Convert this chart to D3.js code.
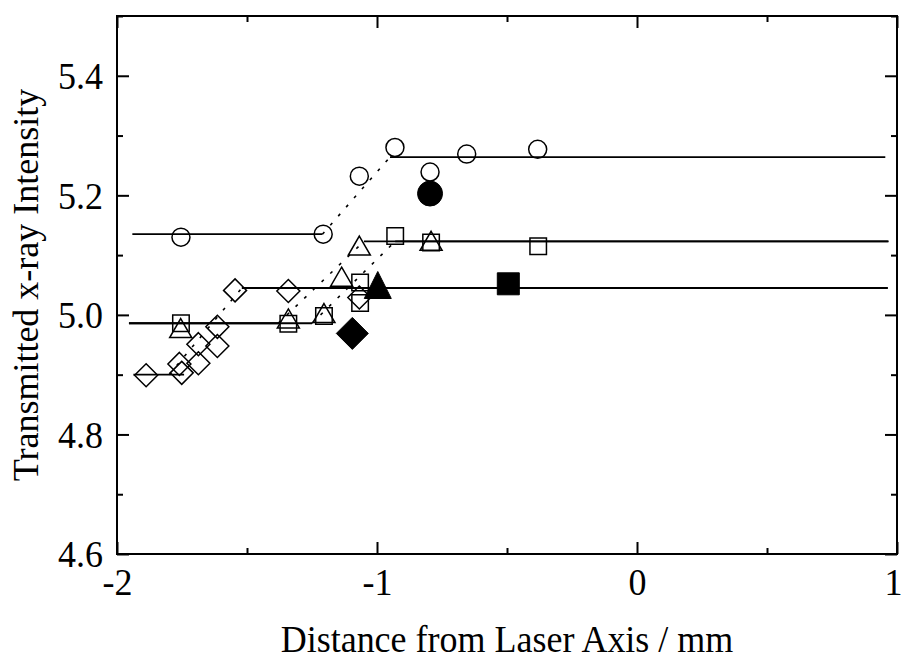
<!DOCTYPE html>
<html>
<head>
<meta charset="utf-8">
<script src="https://cdn.jsdelivr.net/npm/d3@7"></script>
<style>
  html, body { margin: 0; padding: 0; background: #fff; }
  svg { display: block; }
  text { font-family: "Liberation Serif", "Times New Roman", serif; fill: #000; }
</style>
</head>
<body>
<svg id="chart" width="903" height="660"></svg>
<script>
// ---------------- data ----------------
const xTickValues = [-2, -1, 0, 1];
const xTickLabels = ["-2", "-1", "0", "1"];
const xMinorTicks = [-1.5, -0.5, 0.5];
const yTickValues = [4.6, 4.8, 5.0, 5.2, 5.4];
const yTickLabels = ["4.6", "4.8", "5.0", "5.2", "5.4"];
const yMinorTicks = [4.7, 4.9, 5.1, 5.3, 5.5];

const xTitle = "Distance from Laser Axis / mm";
const yTitle = "Transmitted x-ray Intensity";

// open symbols
const circleX = [-1.754, -1.207, -1.068, -0.931, -0.796, -0.655, -0.382];
const circleY = [5.130, 5.135, 5.232, 5.280, 5.239, 5.269, 5.277];

const squareX = [-1.754, -1.341, -1.204, -1.065, -1.065, -0.930, -0.792, -0.380];
const squareY = [4.986, 4.985, 4.998, 5.054, 5.020, 5.132, 5.121, 5.115];

const triangleX = [-1.755, -1.341, -1.204, -1.136, -1.068, -0.792];
const triangleY = [4.978, 4.994, 5.003, 5.064, 5.116, 5.124];

const diamondX = [-1.888, -1.760, -1.751, -1.687, -1.687, -1.614, -1.614, -1.546, -1.341, -1.068];
const diamondY = [4.899, 4.918, 4.903, 4.919, 4.951, 4.948, 4.980, 5.041, 5.040, 5.029];

// filled symbols
const filledCircle = [-0.796, 5.203];
const filledSquare = [-0.495, 5.052];
const filledTriangle = [-0.997, 5.050];
const filledDiamond = [-1.095, 4.969];

// step fits: solid low level, dotted ramp, solid high level
const circleLow = [[-1.941, 5.135], [-1.21, 5.135]];
const circleRamp = [[-1.21, 5.135], [-0.95, 5.264]];
const circleHigh = [[-0.95, 5.264], [0.955, 5.264]];

const diamondLow = [[-1.937, 4.900], [-1.742, 4.900]];
const diamondRamp = [[-1.80, 4.900], [-1.52, 5.045]];
const diamondHigh = [[-1.52, 5.045], [0.965, 5.045]];

const triangleLow = [[-1.954, 4.986], [-1.38, 4.986]];
const triangleRamp = [[-1.38, 4.986], [-1.05, 5.123]];
const triangleHigh = [[-1.05, 5.123], [0.965, 5.123]];

const squareLow = [[-1.954, 4.986], [-1.25, 4.986]];
const squareRamp = [[-1.25, 4.986], [-0.93, 5.123]];
const squareHigh = [[-0.93, 5.123], [0.968, 5.123]];

// ---------------- layout ----------------
const svg = d3.select("#chart");
const pLeft = 117, pRight = 897, pTop = 16, pBottom = 554;
const x = d3.scaleLinear().domain([-2, 1]).range([pLeft, pRight]);
const y = d3.scaleLinear().domain([4.6, 5.5]).range([pBottom, pTop]);

const fontSize = 38;      // glyph height
const squeeze = 0.947;    // horizontal compression (narrow Times look)
const majorLen = 12, minorLen = 6;

// frame
svg.append("rect")
  .attr("x", pLeft).attr("y", pTop)
  .attr("width", pRight - pLeft).attr("height", pBottom - pTop)
  .attr("fill", "none").attr("stroke", "#000").attr("stroke-width", 2);

function styleAxis(g) {
  g.select(".domain").remove();
  g.selectAll(".tick line").attr("stroke", "#000").attr("stroke-width", 2);
  g.selectAll(".tick text").remove();
}

// bottom axis
const gx = svg.append("g").attr("transform", `translate(0,${pBottom})`)
  .call(d3.axisBottom(x).tickValues(xTickValues).tickSize(-majorLen).tickFormat(""))
  .call(styleAxis);
gx.selectAll(".tick").append("text")
  .attr("transform", (d, i) => `translate(${i === xTickValues.length - 1 ? -4 : 0},14) scale(${squeeze},1)`)
  .attr("dy", "0.71em")
  .attr("text-anchor", "middle")
  .style("font-size", fontSize + "px")
  .text((d, i) => xTickLabels[i]);
svg.append("g").attr("transform", `translate(0,${pBottom})`)
  .call(d3.axisBottom(x).tickValues(xMinorTicks).tickSize(-minorLen).tickFormat(""))
  .call(styleAxis);
// top axis
svg.append("g").attr("transform", `translate(0,${pTop})`)
  .call(d3.axisTop(x).tickValues(xTickValues).tickSize(-majorLen).tickFormat(""))
  .call(styleAxis);
svg.append("g").attr("transform", `translate(0,${pTop})`)
  .call(d3.axisTop(x).tickValues(xMinorTicks).tickSize(-minorLen).tickFormat(""))
  .call(styleAxis);
// left axis
const gy = svg.append("g").attr("transform", `translate(${pLeft},0)`)
  .call(d3.axisLeft(y).tickValues(yTickValues).tickSize(-majorLen).tickFormat(""))
  .call(styleAxis);
gy.selectAll(".tick").append("text")
  .attr("transform", `translate(-14,0) scale(${squeeze},1)`)
  .attr("dy", "0.34em")
  .attr("text-anchor", "end")
  .style("font-size", fontSize + "px")
  .text((d, i) => yTickLabels[i]);
svg.append("g").attr("transform", `translate(${pLeft},0)`)
  .call(d3.axisLeft(y).tickValues(yMinorTicks).tickSize(-minorLen).tickFormat(""))
  .call(styleAxis);
// right axis
svg.append("g").attr("transform", `translate(${pRight},0)`)
  .call(d3.axisRight(y).tickValues(yTickValues).tickSize(-majorLen).tickFormat(""))
  .call(styleAxis);
svg.append("g").attr("transform", `translate(${pRight},0)`)
  .call(d3.axisRight(y).tickValues(yMinorTicks).tickSize(-minorLen).tickFormat(""))
  .call(styleAxis);

// titles
svg.append("text")
  .attr("transform", `translate(${(pLeft + pRight) / 2},652) scale(${squeeze},1)`)
  .attr("text-anchor", "middle")
  .style("font-size", fontSize + "px")
  .text(xTitle);
svg.append("text")
  .attr("transform", `translate(38,${(pTop + pBottom) / 2}) rotate(-90)`)
  .attr("text-anchor", "middle")
  .style("font-size", "36px")
  .text(yTitle);

// fit lines
const line = d3.line().x(d => x(d[0])).y(d => y(d[1]));
const solid = [circleLow, circleHigh, diamondLow, diamondHigh, triangleLow, triangleHigh, squareLow, squareHigh];
const dotted = [circleRamp, diamondRamp, triangleRamp, squareRamp];
svg.append("g").selectAll("path").data(solid).join("path")
  .attr("d", line).attr("fill", "none").attr("stroke", "#000").attr("stroke-width", 1.8);
svg.append("g").selectAll("path").data(dotted).join("path")
  .attr("d", line).attr("fill", "none").attr("stroke", "#000").attr("stroke-width", 1.6)
  .attr("stroke-dasharray", "3,9");

// marker shapes (centered on data point)
const shape = {
  circle: s => { const r = s.r; return `M${-r},0A${r},${r} 0 1,0 ${r},0A${r},${r} 0 1,0 ${-r},0Z`; },
  square: s => { const h = s.a / 2; return `M${-h},${-h}H${h}V${h}H${-h}Z`; },
  diamond: s => { const h = s.a; return `M0,${-h}L${h},0L0,${h}L${-h},0Z`; },
  triangle: s => { const w = s.w / 2, h = s.h / 2; return `M0,${-h}L${w},${h}L${-w},${h}Z`; }
};

function drawOpen(xs, ys, type, size) {
  svg.append("g").selectAll("path").data(xs.map((v, i) => [v, ys[i]])).join("path")
    .attr("transform", d => `translate(${x(d[0])},${y(d[1])})`)
    .attr("d", shape[type](size))
    .attr("fill", "none").attr("stroke", "#000").attr("stroke-width", 1.5);
}
function drawFilled(pt, type, size) {
  svg.append("path")
    .attr("transform", `translate(${x(pt[0])},${y(pt[1])})`)
    .attr("d", shape[type](size))
    .attr("fill", "#000").attr("stroke", "#000").attr("stroke-width", 1);
}

drawOpen(circleX, circleY, "circle", { r: 9 });
drawOpen(squareX, squareY, "square", { a: 16.5 });
drawOpen(triangleX, triangleY, "triangle", { w: 22, h: 19 });
drawOpen(diamondX, diamondY, "diamond", { a: 11.5 });

drawFilled(filledCircle, "circle", { r: 12.5 });
drawFilled(filledSquare, "square", { a: 22 });
drawFilled(filledTriangle, "triangle", { w: 27, h: 27 });
drawFilled(filledDiamond, "diamond", { a: 16 });
</script>
</body>
</html>
